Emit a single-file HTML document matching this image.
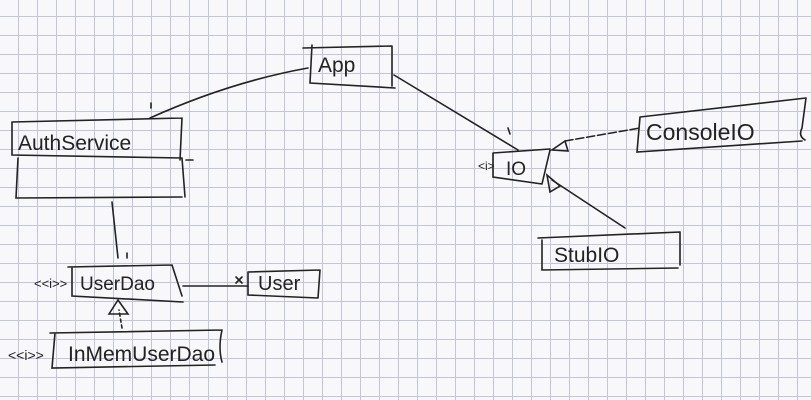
<!DOCTYPE html>
<html><head><style>
html,body{margin:0;padding:0;background:#f8f8fa;}
svg{display:block}
text{font-family:"Liberation Sans",sans-serif;fill:#222;}
</style></head><body>
<svg width="811" height="400" viewBox="0 0 811 400" xmlns="http://www.w3.org/2000/svg">
<defs>
<pattern id="g" width="19" height="19" patternUnits="userSpaceOnUse" x="0" y="-2">
<path d="M18.5 0V19M0 18.5H19" stroke="#c3c6da" stroke-width="1" fill="none"/>
</pattern>
</defs>
<rect width="811" height="400" fill="#f8f8fa"/>
<rect width="811" height="400" fill="url(#g)"/>
<g stroke="#222" stroke-width="1.6" fill="none" stroke-linecap="round">
<path d="M303 48 L392 46 M312 45 L310 83 L395 88 M392 46 L392 86"/>
<path d="M12 122 L182 118 M12 122 L12 155 L182 158 M182 118 L180 160 M18 158 L16 198 L182 197 M182 158 L185 197 M186 160 L193 160"/>
<path d="M150 118 Q230 82 308 68"/>
<path d="M151 103 L151 108"/>
<path d="M394 75 L518 150"/>
<path d="M508 128 L510 134"/>
<path d="M493 153 L550 149 M493 153 L493 177 L542 184 M550 150 L542 184"/>
<path d="M640 117 L806 98 M640 117 L637 152 L802 141 M806 98 L802 128 Q798 136 805 140"/>
<path d="M565 141 L640 128" stroke-dasharray="8 3"/>
<path d="M565 141 L552 150 L568 151 Z"/>
<path d="M538 238 L680 232 M542 240 L542 270 L678 268 M680 232 L680 265"/>
<path d="M625 228 L552 180"/>
<path d="M547 175 L550 192 L560 186 Z"/>
<path d="M68 267 L172 265 M72 267 L72 296 L183 302 M172 265 L182 296"/>
<path d="M112 202 L118 258"/>
<path d="M127 253 L127 258"/>
<path d="M183 286 L248 286"/>
<path d="M236 277 L242 283 M242 277 L236 283"/>
<path d="M248 272 L320 270 M248 272 L248 295 L318 298 M320 270 L318 298"/>
<path d="M50 333 L222 330 M55 333 L52 368 L215 365 M222 330 Q218 348 222 362"/>
<path d="M122 328 L119 310" stroke-dasharray="3 3"/>
<path d="M109 314 L118 300 L128 314 Z"/>
</g>
<text x="18" y="150" font-size="21">AuthService</text>
<text x="318" y="72" font-size="21">App</text>
<text x="506" y="175" font-size="19">IO</text>
<text x="478" y="170" font-size="12">&lt;i&gt;</text>
<text x="646" y="140" font-size="23">ConsoleIO</text>
<text x="554" y="262" font-size="21">StubIO</text>
<text x="80" y="290" font-size="19">UserDao</text>
<text x="34" y="288" font-size="13">&lt;&lt;i&gt;&gt;</text>
<text x="258" y="290" font-size="20">User</text>
<text x="68" y="361" font-size="21">InMemUserDao</text>
<text x="8" y="360" font-size="14">&lt;&lt;i&gt;&gt;</text>
</svg>
</body></html>
